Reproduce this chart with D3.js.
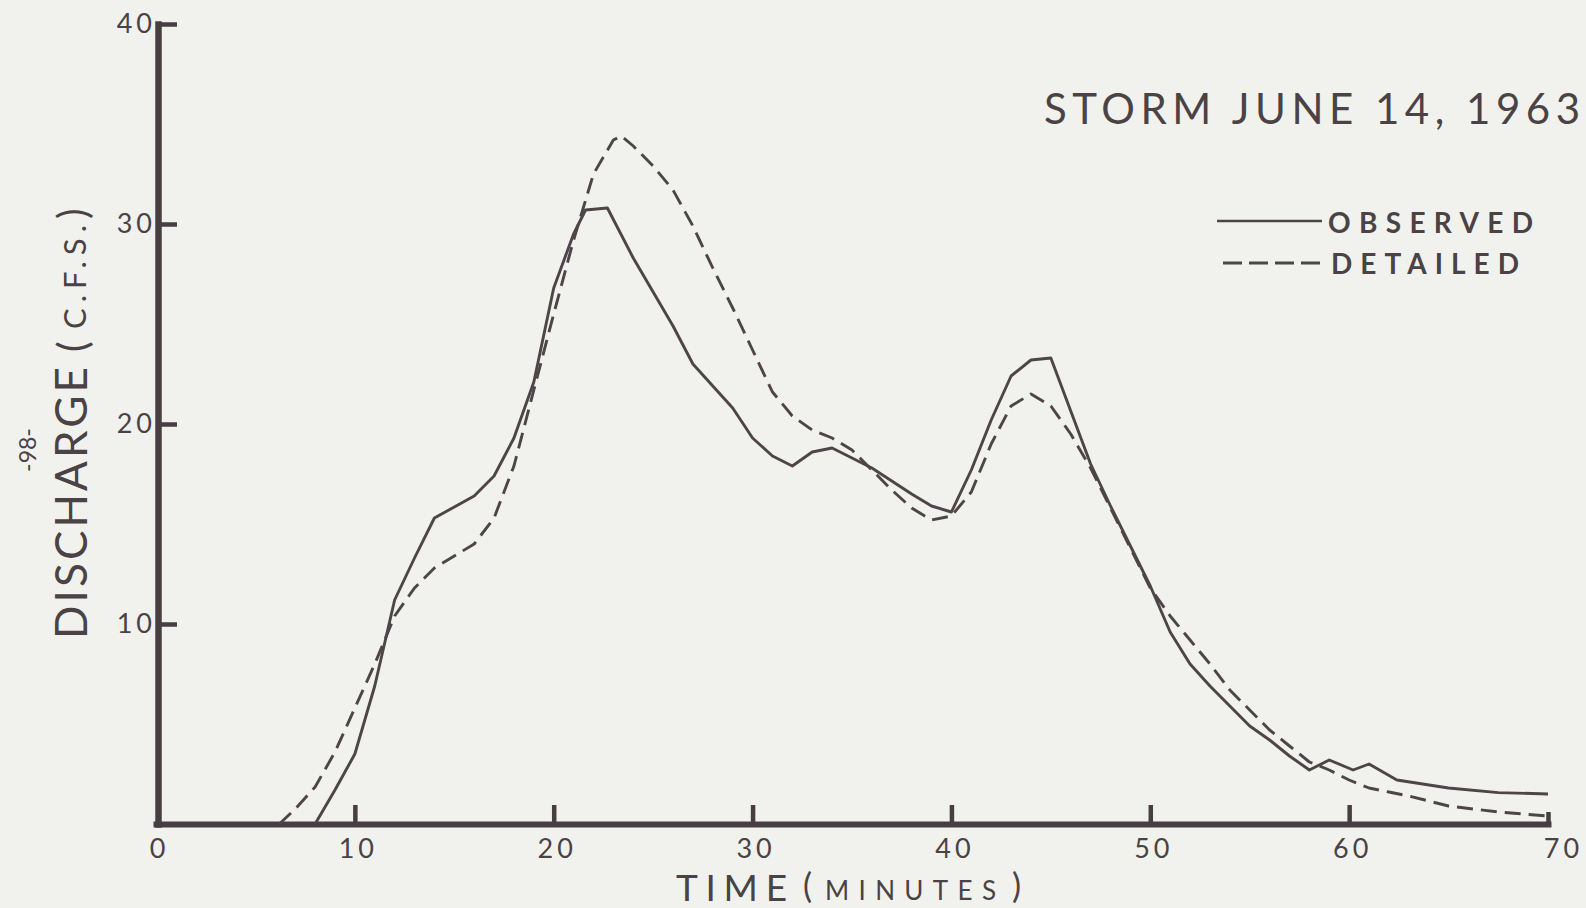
<!DOCTYPE html>
<meta charset="utf-8">
<html>
<style>
	body { margin: 0; background: #f1f2ee; }
	svg { display: block; }
	.ink { fill: #4a4244; }
	.axis path, .axis line { stroke: #463e40; }
	.axis text { fill: #4a4244; font-family: Lato, "Open Sans", sans-serif; font-size: 27px; letter-spacing: 4px; }
	.curve { fill: none; stroke: #4d4547; stroke-width: 2.9px; stroke-linejoin: round; }
</style>
<body>
	<script src="https://d3js.org/d3.v7.min.js"></script>
	<script type="text/javascript">
		// observed hydrograph (minutes, c.f.s.)
		var obsTime = [8, 9, 10, 11, 12, 13, 14, 16, 17, 18, 19, 20, 21, 21.6, 22.7, 24, 26, 27, 29, 30, 31, 32, 33, 34, 36, 38, 39, 40, 41, 42, 43, 44, 45, 47, 48, 49, 50, 51, 52, 53, 54, 55, 56, 57, 58, 59, 60.2, 61, 62.4, 65, 67.5, 70];
		var obsFlow = [0, 1.7, 3.5, 6.9, 11.2, 13.3, 15.3, 16.4, 17.4, 19.3, 22.1, 26.8, 29.5, 30.7, 30.8, 28.3, 24.9, 23.0, 20.8, 19.3, 18.4, 17.9, 18.6, 18.8, 17.8, 16.5, 15.9, 15.6, 17.7, 20.2, 22.4, 23.2, 23.3, 18.0, 15.9, 13.9, 11.9, 9.6, 8.0, 6.9, 5.9, 4.9, 4.2, 3.4, 2.7, 3.2, 2.7, 3.0, 2.2, 1.8, 1.57, 1.5];

		// detailed model hydrograph
		var detTime = [6.2, 7, 8, 9, 10, 11, 12, 13, 14, 15, 16, 17, 18, 19, 20, 21, 22, 23, 23.4, 24, 25, 26, 27, 28, 29, 30, 31, 32, 33, 34, 35, 36, 37, 38, 39, 40, 41, 42, 43, 44, 45, 46, 47, 48, 49, 50, 51, 52, 53, 54, 55, 56, 57, 58, 59, 60, 61, 62, 63, 65, 67.5, 70];
		var detFlow = [0, 0.75, 1.85, 3.6, 5.8, 8.0, 10.4, 11.8, 12.8, 13.4, 14.0, 15.3, 17.9, 21.7, 25.5, 29.2, 32.5, 34.2, 34.4, 33.9, 32.9, 31.7, 29.9, 27.8, 25.8, 23.7, 21.6, 20.4, 19.7, 19.3, 18.7, 17.7, 16.7, 15.8, 15.2, 15.4, 16.6, 19.0, 20.9, 21.5, 20.9, 19.5, 17.8, 15.8, 13.8, 11.8, 10.4, 9.2, 8.0, 6.7, 5.7, 4.7, 3.9, 3.1, 2.7, 2.2, 1.8, 1.6, 1.4, 0.9, 0.6, 0.4];

		var xTicks = [0, 10, 20, 30, 40, 50, 60, 70];
		var yTicks = [10, 20, 30, 40];
		var legendNames = ["OBSERVED", "DETAILED"];

		var width = 1586,
			height = 908;

		var svg = d3.select("body")
			.append("svg")
			.attr("width", width)
			.attr("height", height);

		svg.append("rect")
			.attr("width", width)
			.attr("height", height)
			.attr("fill", "#f1f2ee");

		var x = d3.scaleLinear().domain([0, 70]).range([156, 1548]);
		var y = d3.scaleLinear().domain([0, 40]).range([824, 24]);

		//x axis, ticks point up into the plot
		var gx = svg.append("g")
			.attr("class", "axis")
			.attr("transform", "translate(0," + y(0) + ")")
			.call(d3.axisBottom(x).tickValues(xTicks).tickSizeInner(-19).tickSizeOuter(0).tickPadding(15));
		gx.select(".domain").attr("stroke-width", 6).attr("stroke-linecap", "square");
		gx.selectAll(".tick line").attr("stroke-width", 4.5)
			.attr("y2", function (d) { return d === 70 ? -12 : -19; })
			.filter(function (d) { return d === 0; }).remove();
		gx.selectAll(".tick text")
			.attr("dx", function (d) { return d === 70 ? 15 : 3; });

		//y axis, ticks point right
		var gy = svg.append("g")
			.attr("class", "axis")
			.attr("transform", "translate(" + (x(0) + 2) + ",0)")
			.call(d3.axisLeft(y).tickValues(yTicks).tickSizeInner(-19).tickSizeOuter(0).tickPadding(2));
		gy.select(".domain").attr("stroke-width", 6.5).attr("stroke-linecap", "square");
		gy.selectAll(".tick line").attr("stroke-width", 4.5);

		//curves
		var line = d3.line()
			.x(function (d) { return x(d[0]); })
			.y(function (d) { return y(d[1]); });

		svg.append("path")
			.datum(d3.zip(detTime, detFlow))
			.attr("class", "curve")
			.attr("stroke-dasharray", "16,8")
			.attr("d", line);

		svg.append("path")
			.datum(d3.zip(obsTime, obsFlow))
			.attr("class", "curve")
			.attr("d", line);

		//title
		svg.append("text")
			.attr("class", "ink")
			.attr("x", 1044).attr("y", 124)
			.attr("textLength", 536).attr("lengthAdjust", "spacing")
			.style("font-family", "Lato, 'Open Sans', sans-serif")
			.style("font-size", "42px")
			.text("STORM  JUNE  14, 1963");

		//legend
		var legend = svg.append("g");
		legend.append("line")
			.attr("x1", 1217).attr("x2", 1322).attr("y1", 221).attr("y2", 221)
			.attr("stroke", "#4d4547").attr("stroke-width", 2.6);
		legend.append("line")
			.attr("x1", 1223).attr("x2", 1327).attr("y1", 263).attr("y2", 263)
			.attr("stroke", "#4d4547").attr("stroke-width", 2.8)
			.attr("stroke-dasharray", "19,7");
		legend.selectAll("text.lg")
			.data(legendNames)
			.enter().append("text")
			.attr("class", "ink lg")
			.attr("x", function (d, i) { return i === 0 ? 1328 : 1331; })
			.attr("y", function (d, i) { return i === 0 ? 233 : 274; })
			.attr("textLength", function (d, i) { return i === 0 ? 205 : 188; })
			.attr("lengthAdjust", "spacing")
			.style("font-family", "Lato, 'Open Sans', sans-serif")
			.style("font-weight", "bold")
			.style("font-size", "28px")
			.text(function (d) { return d; });

		//x axis title
		var xt = svg.append("g")
			.attr("class", "ink")
			.style("font-family", "Lato, 'Open Sans', sans-serif");
		xt.append("text").attr("x", 676).attr("y", 901)
			.attr("textLength", 111).attr("lengthAdjust", "spacing")
			.style("font-size", "37px").text("TIME");
		xt.append("text").attr("x", 803).attr("y", 898)
			.style("font-size", "34px").text("(");
		xt.append("text").attr("x", 825).attr("y", 900)
			.attr("textLength", 171).attr("lengthAdjust", "spacing")
			.style("font-size", "26px").text("MINUTES");
		xt.append("text").attr("x", 1012).attr("y", 898)
			.style("font-size", "34px").text(")");

		//y axis title, rotated
		var yt = svg.append("g")
			.attr("class", "ink")
			.attr("transform", "translate(87,0) rotate(-90)")
			.style("font-family", "Lato, 'Open Sans', sans-serif");
		yt.append("text").attr("x", -639).attr("y", 0)
			.attr("textLength", 272).attr("lengthAdjust", "spacing")
			.style("font-size", "44px").text("DISCHARGE");
		yt.append("text").attr("x", -352).attr("y", 0)
			.style("font-size", "40px").text("(");
		yt.append("text").attr("x", -329).attr("y", -1)
			.attr("textLength", 104).attr("lengthAdjust", "spacing")
			.style("font-size", "31px").text("C.F.S.");
		yt.append("text").attr("x", -219).attr("y", 0)
			.style("font-size", "40px").text(")");

		//page number in the margin
		svg.append("text")
			.attr("class", "ink")
			.attr("transform", "translate(36,450) rotate(-90)")
			.attr("text-anchor", "middle")
			.style("font-family", "Lato, 'Open Sans', sans-serif")
			.style("font-size", "23px")
			.text("-98-");
	</script>
</body>

</html>
